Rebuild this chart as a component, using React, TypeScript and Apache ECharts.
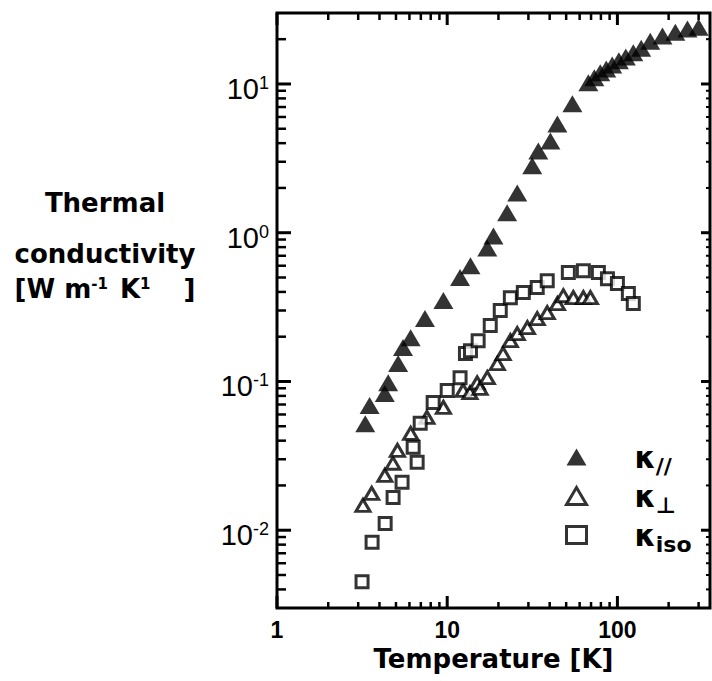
import { useEffect, useRef } from 'react';
import * as echarts from 'echarts';

// κ// (filled triangles)
const parT = [3.3, 3.5, 4.3, 4.5, 5.15, 5.5, 6.1, 7.4, 9.5, 11.9, 13.7, 17.2, 18.7, 22.5, 25.8, 31.6, 34.3, 40.4, 44.4, 54.4, 67.5, 73.2, 79.3, 86.0, 93.2, 102, 112, 124, 138, 156, 184, 219, 258, 300];
const parK = [0.052, 0.069, 0.083, 0.098, 0.132, 0.169, 0.197, 0.265, 0.35, 0.5, 0.6, 0.79, 0.95, 1.36, 1.85, 2.82, 3.55, 4.14, 5.39, 7.35, 10.2, 11.0, 11.9, 12.6, 13.4, 14.3, 15.2, 16.2, 17.4, 19.4, 21.0, 22.3, 23.4, 24.1];

// κ⊥ (open triangles)
const perpT = [3.2, 3.6, 4.3, 4.8, 5.1, 6.1, 7.6, 9.5, 12.4, 13.6, 15.0, 15.6, 17.2, 19.7, 21.3, 23.5, 25.8, 29.6, 33.8, 38.7, 44.4, 48.1, 55.1, 63.1, 69.4];
const perpK = [0.0147, 0.0177, 0.0234, 0.0282, 0.0344, 0.0448, 0.0573, 0.067, 0.087, 0.084, 0.098, 0.09, 0.106, 0.132, 0.154, 0.188, 0.21, 0.23, 0.265, 0.29, 0.334, 0.377, 0.366, 0.366, 0.366];

// κiso (open squares)
const isoT = [3.16, 3.62, 4.32, 4.81, 5.43, 6.31, 6.66, 6.94, 8.27, 10.0, 11.9, 12.8, 13.7, 15.2, 17.9, 20.5, 23.5, 28.0, 33.8, 38.7, 51.5, 63.1, 77.3, 87.4, 100, 116, 124];
const isoK = [0.0045, 0.0083, 0.0111, 0.0166, 0.021, 0.0361, 0.0286, 0.0523, 0.0723, 0.087, 0.106, 0.154, 0.161, 0.188, 0.238, 0.3, 0.366, 0.396, 0.428, 0.476, 0.54, 0.556, 0.54, 0.491, 0.455, 0.39, 0.334];

const seriesNames = ['κ//', 'κ⊥', 'κiso'];

// axis ranges
const X_MIN = 1;
const X_MAX = 350;
const Y_MIN = 0.003;
const Y_MAX = 30;

// tick positions
const xMajorTicks = [1, 10, 100];
const xMinorTicks = [2, 3, 4, 5, 6, 7, 8, 9, 20, 30, 40, 50, 60, 70, 80, 90, 200, 300];
const yMajorTicks = [0.01, 0.1, 1, 10];
const yMinorTicks = [0.004, 0.005, 0.006, 0.007, 0.008, 0.009, 0.02, 0.03, 0.04, 0.05, 0.06, 0.07, 0.08, 0.09, 0.2, 0.3, 0.4, 0.5, 0.6, 0.7, 0.8, 0.9, 2, 3, 4, 5, 6, 7, 8, 9, 20];

const isPow10 = (v: number) => {
  const l = Math.log10(v);
  return Math.abs(l - Math.round(l)) < 1e-6;
};

export default function App() {
  const ref = useRef<HTMLDivElement>(null);
  useEffect(() => {
    const chart = echarts.init(ref.current!, null, { renderer: 'svg' });
    const pairs = (xs: number[], ys: number[]) => xs.map((x, i) => [x, ys[i]]);
    const bold = { fontFamily: 'DejaVu Sans', fontWeight: 'bold' as const, color: '#000' };

    const titleEls: any[] = [
      {
        type: 'text',
        x: 105,
        y: 203,
        style: { text: 'Thermal', fontFamily: 'DejaVu Sans', fontWeight: 'bold', fontSize: 26, fill: '#000', align: 'center', verticalAlign: 'middle' },
      },
      {
        type: 'text',
        x: 105,
        y: 254,
        style: { text: 'conductivity', fontFamily: 'DejaVu Sans', fontWeight: 'bold', fontSize: 26, fill: '#000', align: 'center', verticalAlign: 'middle' },
      },
      {
        type: 'text',
        x: 105,
        y: 289,
        style: {
          text: '{b|[W m}{s1|-1}{b|K}{s2|1}{b|]}',
          align: 'center',
          verticalAlign: 'middle',
          rich: {
            b: { fontFamily: 'DejaVu Sans', fontWeight: 'bold', fontSize: 26, lineHeight: 26, verticalAlign: 'middle', fill: '#000' },
            s1: { fontFamily: 'DejaVu Sans', fontWeight: 'bold', fontSize: 15, lineHeight: 15, verticalAlign: 'top', fill: '#000', padding: [0, 12, 0, 0] },
            s2: { fontFamily: 'DejaVu Sans', fontWeight: 'bold', fontSize: 15, lineHeight: 15, verticalAlign: 'top', fill: '#000', padding: [0, 33, 0, 0] },
          },
        },
      },
    ];

    chart.setOption({
      animation: false,
      grid: {
        left: 277,
        top: 13,
        width: 433,
        height: 595,
        show: true,
        borderColor: '#000',
        borderWidth: 3,
      },
      xAxis: {
        type: 'log',
        min: X_MIN,
        max: X_MAX,
        logBase: 10,
        axisLine: { show: false },
        axisTick: { show: false },
        splitLine: { show: false },
        axisLabel: {
          formatter: (v: number) => (isPow10(v) ? String(Math.round(v)) : ''),
          fontFamily: 'Liberation Sans',
          fontWeight: 'bold',
          fontSize: 23,
          color: '#000',
          margin: 10,
          showMinLabel: true,
          showMaxLabel: false,
        },
        name: 'Temperature [K]',
        nameLocation: 'middle',
        nameGap: 37,
        nameTextStyle: { ...bold, fontSize: 26 },
      },
      yAxis: {
        type: 'log',
        min: Y_MIN,
        max: Y_MAX,
        logBase: 10,
        axisLine: { show: false },
        axisTick: { show: false },
        splitLine: { show: false },
        axisLabel: {
          formatter: (v: number) => {
            if (!isPow10(v)) return '';
            return '10{s|' + Math.round(Math.log10(v)) + '}';
          },
          fontFamily: 'Liberation Sans',
          fontSize: 29,
          lineHeight: 30,
          color: '#000',
          margin: 8,
          padding: [10, 0, 0, 0],
          rich: {
            s: { fontFamily: 'Liberation Sans', fontSize: 18, lineHeight: 18, verticalAlign: 'top', color: '#000' },
          },
        },
      },
      legend: {
        orient: 'vertical',
        left: 565,
        top: 442,
        padding: 0,
        itemGap: 4,
        itemWidth: 20,
        itemHeight: 17,
        selectedMode: false,
        data: [
          { name: seriesNames[0] },
          { name: seriesNames[1], itemStyle: { borderWidth: 3 } },
          { name: seriesNames[2], itemStyle: { borderWidth: 3 } },
        ],
        formatter: (name: string) => '{k|κ}{s|' + name.slice(1) + '}',
        textStyle: {
          ...bold,
          rich: {
            k: { ...bold, fontSize: 30, lineHeight: 40, verticalAlign: 'middle', padding: [0, 0, 0, 43] },
            s: { ...bold, fontSize: 22, lineHeight: 20, verticalAlign: 'bottom' },
          },
        },
      },
      graphic: titleEls,
      series: [
        {
          type: 'scatter',
          name: seriesNames[1],
          data: pairs(perpT, perpK),
          symbol: 'triangle',
          symbolSize: [14, 12],
          itemStyle: { color: '#fff', borderColor: '#000', borderWidth: 3 },
          z: 5,
        },
        {
          type: 'scatter',
          name: seriesNames[2],
          data: pairs(isoT, isoK),
          symbol: 'rect',
          symbolSize: 12,
          itemStyle: { color: '#fff', borderColor: '#000', borderWidth: 3 },
          z: 5,
        },
        {
          type: 'scatter',
          name: seriesNames[0],
          data: pairs(parT, parK),
          symbol: 'triangle',
          symbolSize: [20, 17],
          itemStyle: { color: '#000' },
          z: 6,
        },
      ],
    });

    // frame ticks: positions converted through the chart's own log axes
    const px = (x: number, y: number) => chart.convertToPixel({ gridIndex: 0 }, [x, y]) as number[];
    const corner0 = px(X_MIN, Y_MIN);
    const corner1 = px(X_MAX, Y_MAX);
    const gl = corner0[0], gb = corner0[1], gr = corner1[0], gt = corner1[1];
    const tickEls: any[] = [];
    const seg = (x1: number, y1: number, x2: number, y2: number, w: number) =>
      tickEls.push({ type: 'line', z: 100, silent: true, shape: { x1, y1, x2, y2 }, style: { stroke: '#000', lineWidth: w } });
    xMajorTicks.forEach((v) => {
      const x = px(v, 1)[0];
      seg(x, gb, x, gb - 12, 3);
      seg(x, gt, x, gt + 12, 3);
    });
    xMinorTicks.forEach((v) => {
      const x = px(v, 1)[0];
      seg(x, gb, x, gb - 6, 2.5);
      seg(x, gt, x, gt + 7, 2.5);
    });
    yMajorTicks.forEach((v) => {
      const y = px(10, v)[1];
      seg(gl, y, gl + 14, y, 3);
      seg(gr, y, gr - 9, y, 3);
    });
    yMinorTicks.forEach((v) => {
      const y = px(10, v)[1];
      seg(gl, y, gl + 9, y, 2.5);
      seg(gr, y, gr - 4, y, 2);
    });
    chart.setOption({ graphic: [...titleEls, ...tickEls] });

    return () => chart.dispose();
  }, []);
  return (
    <div
      ref={ref}
      style={{ position: 'fixed', left: 0, top: 0, width: 712, height: 681, background: '#fff' }}
    />
  );
}
